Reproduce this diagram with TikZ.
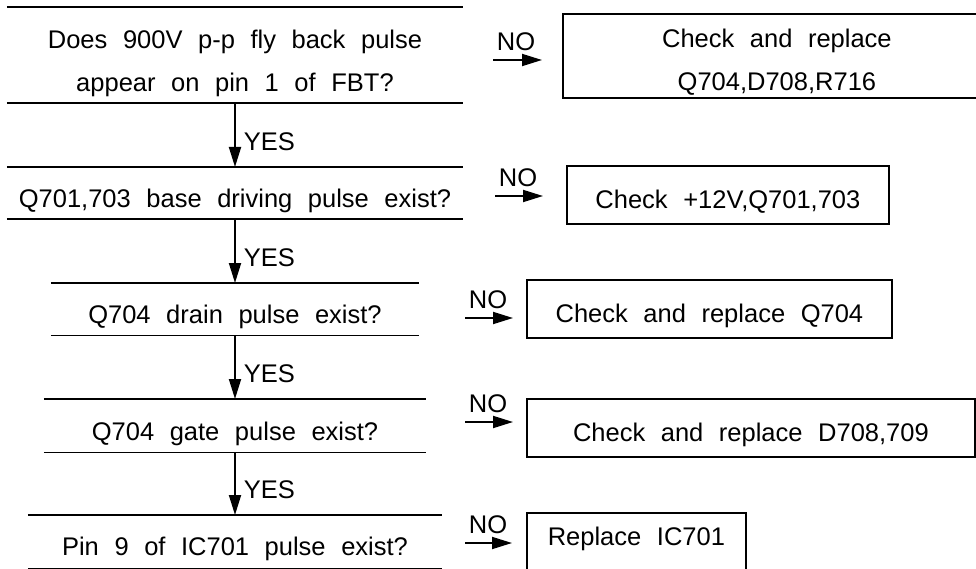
\documentclass[tikz,border=0pt]{standalone}
\usepackage{fontspec}
\setmainfont{Liberation Sans}[WordSpace=2.2]
\usetikzlibrary{arrows.meta, positioning, calc}
\tikzstyle{question} = [inner xsep=0pt, inner ysep=0pt, text height=40pt, text depth=12pt, align=center, anchor=north]
\tikzstyle{fixbox} = [rectangle, draw=black, line width=1.8pt, inner ysep=0pt, text height=43pt, text depth=15pt, align=center, anchor=north west]
\tikzstyle{qline} = [line width=1.8pt]
\tikzstyle{arrow} = [line width=1.8pt, -{Triangle[length=20pt,width=12pt]}]
\tikzstyle{nolabel} = [anchor=south west, inner xsep=3pt, inner ysep=8pt]
\tikzstyle{yeslabel} = [pos=0.6, anchor=west, inner xsep=8pt]

\begin{document}
\begin{tikzpicture}[x=1pt, y=1pt, every node/.style={font=\fontsize{25.5}{43}\selectfont}]
\useasboundingbox (0,0) rectangle (976,-569);

% Questions
\node[question, minimum width=456pt, text height=84pt, text depth=12pt] (q1) at (235,-7) {Does 900V p-p fly back pulse\\appear on pin 1 of FBT?};
\node[question, minimum width=456pt] (q2) at (235,-167) {Q701,703 base driving pulse exist?};
\node[question, minimum width=368pt] (q3) at (235,-283) {Q704 drain pulse exist?};
\node[question, minimum width=382pt, text height=41pt] (q4) at (235,-399) {Q704 gate pulse exist?};
\node[question, minimum width=414pt, text depth=13pt] (q5) at (235,-515) {Pin 9 of IC701 pulse exist?};
\foreach \q in {q1,q2,q3,q4,q5}
  \draw[qline] (\q.north west) -- (\q.north east) (\q.south west) -- (\q.south east);

% Remedies
\node[fixbox, minimum width=428pt, text height=77pt, text depth=7pt] (r1) at (562,-13) {Check and replace\\Q704,D708,R716};
\node[fixbox, minimum width=322pt] (r2) at (566,-165) {Check +12V,Q701,703};
\node[fixbox, minimum width=365pt] (r3) at (526,-279) {Check and replace Q704};
\node[fixbox, minimum width=448pt] (r4) at (526,-398) {Check and replace D708,709};
\node[fixbox, minimum width=219pt, text height=33pt, text depth=25pt] (r5) at (526,-512) {Replace IC701};

% YES flow
\draw[arrow] (q1.south) -- (q2.north) node[yeslabel] {YES};
\draw[arrow] (q2.south) -- (q3.north) node[yeslabel] {YES};
\draw[arrow] (q3.south) -- (q4.north) node[yeslabel] {YES};
\draw[arrow] (q4.south) -- (q5.north) node[yeslabel] {YES};

% NO arrows
\coordinate (n1) at (493,-60);
\coordinate (n2) at (495,-196);
\coordinate (n3) at (465,-318);
\coordinate (n4) at (465,-422);
\coordinate (n5) at (465,-543);
\draw[arrow, shorten >=20pt] (n1) node[nolabel] {NO} -- (n1 -| r1.west);
\draw[arrow, shorten >=23pt] (n2) node[nolabel] {NO} -- (n2 -| r2.west);
\draw[arrow, shorten >=13pt] (n3) node[nolabel] {NO} -- (n3 -| r3.west);
\draw[arrow, shorten >=13pt] (n4) node[nolabel] {NO} -- (n4 -| r4.west);
\draw[arrow, shorten >=14pt] (n5) node[nolabel] {NO} -- (n5 -| r5.west);

\end{tikzpicture}
\end{document}
